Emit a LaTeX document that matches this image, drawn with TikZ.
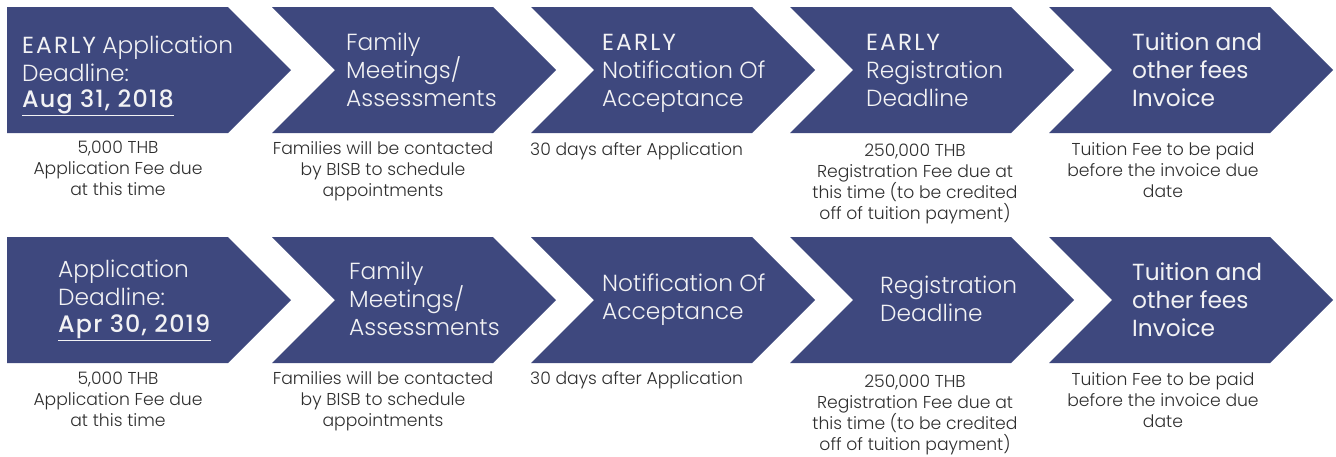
\documentclass[tikz,border=0pt]{standalone}
\usepackage{fontspec}
\setmainfont{Poppins}[UprightFont=* Light, BoldFont=* Medium]
\newfontfamily\popreg{Poppins}
\newfontfamily\popcaps{Poppins}[LetterSpace=9]
\usetikzlibrary{calc}
\definecolor{chevfill}{HTML}{3E487E}
\definecolor{captxt}{HTML}{2E2E2E}
\definecolor{headtxt}{HTML}{F2F2F4}
\begin{document}
\begin{tikzpicture}[x=1pt,y=-1pt,
  chev/.style={fill=chevfill,draw=none},
  headtext/.style={text=headtxt,inner sep=0pt,anchor=west,align=left,font=\fontsize{23.3}{28}\selectfont},
  datetext/.style={text=headtxt,inner sep=0pt,anchor=west,font=\fontsize{23.8}{28}\selectfont\bfseries\addfontfeature{LetterSpace=5}},
  captext/.style={text=captxt,inner sep=0pt,anchor=north,align=center,font=\fontsize{17.2}{21}\selectfont},
  capleft/.style={captext,anchor=north west,align=left},
  uline/.style={draw=headtxt,line width=1.2pt}]
\useasboundingbox (0,0) rectangle (1336,456);
% chevron shapes
\foreach \t/\m/\b in {7/70/133, 237/300/363}{
  \fill[chev] (7,\t) -- (228,\t) -- (291,\m) -- (228,\b) -- (7,\b) -- cycle;
  \foreach \i in {1,2,3,4}{
    \pgfmathsetmacro{\L}{13+259*\i}
    \fill[chev] (\L,\t) -- ({\L+221},\t) -- ({\L+284},\m) -- ({\L+221},\b) -- (\L,\b) -- ({\L+63},\m) -- cycle;
  }
}
% row 1 headers
\node[headtext] (h11) at (22,59) {{\popcaps EARLY} Application\\Deadline:};
\node[datetext] (d11) at (22,102) {Aug 31, 2018};
\draw[uline] ($(d11.base west)+(0,7.5)$) -- ($(d11.base east)+(0,7.5)$);
\node[headtext] (h12) at (346,70) {Family\\Meetings/\\Assessments};
\node[headtext] (h13) at (602,73.5) {{\popcaps EARLY}\\Notification Of\\Acceptance};
\node[headtext] (h14) at (866,70) {{\popcaps EARLY}\\Registration\\Deadline};
\node[headtext,font=\fontsize{23.3}{28}\selectfont\popreg] (h15) at (1132,70) {Tuition and\\other fees\\Invoice};
% row 2 headers
\node[headtext] (h21) at (58,283) {Application\\Deadline:};
\node[datetext] (d21) at (58,327) {Apr 30, 2019};
\draw[uline] ($(d21.base west)+(0,7.5)$) -- ($(d21.base east)+(0,7.5)$);
\node[headtext] (h22) at (349,299) {Family\\Meetings/\\Assessments};
\node[headtext] (h23) at (602,300) {Notification Of\\Acceptance};
\node[headtext] (h24) at (880,299) {Registration\\Deadline};
\node[headtext,font=\fontsize{23.3}{28}\selectfont\popreg] (h25) at (1132,300) {Tuition and\\other fees\\Invoice};
% row 1 captions
\node[captext] (c11) at (118,141) {5,000 THB\\Application Fee due\\at this time};
\node[captext] (c12) at (383,141) {Families will be contacted\\by BISB to schedule\\appointments};
\node[capleft] (c13) at (530,142) {30 days after Application};
\node[captext] (c14) at (915,144) {250,000 THB\\Registration Fee due at\\this time (to be credited\\off of tuition payment)};
\node[captext] (c15) at (1163,142) {Tuition Fee to be paid\\before the invoice due\\date};
% row 2 captions
\node[captext] (c21) at (118,372) {5,000 THB\\Application Fee due\\at this time};
\node[captext] (c22) at (383,371) {Families will be contacted\\by BISB to schedule\\appointments};
\node[capleft] (c23) at (530,371) {30 days after Application};
\node[captext] (c24) at (915,375) {250,000 THB\\Registration Fee due at\\this time (to be credited\\off of tuition payment)};
\node[captext] (c25) at (1163,372) {Tuition Fee to be paid\\before the invoice due\\date};
\end{tikzpicture}
\end{document}
